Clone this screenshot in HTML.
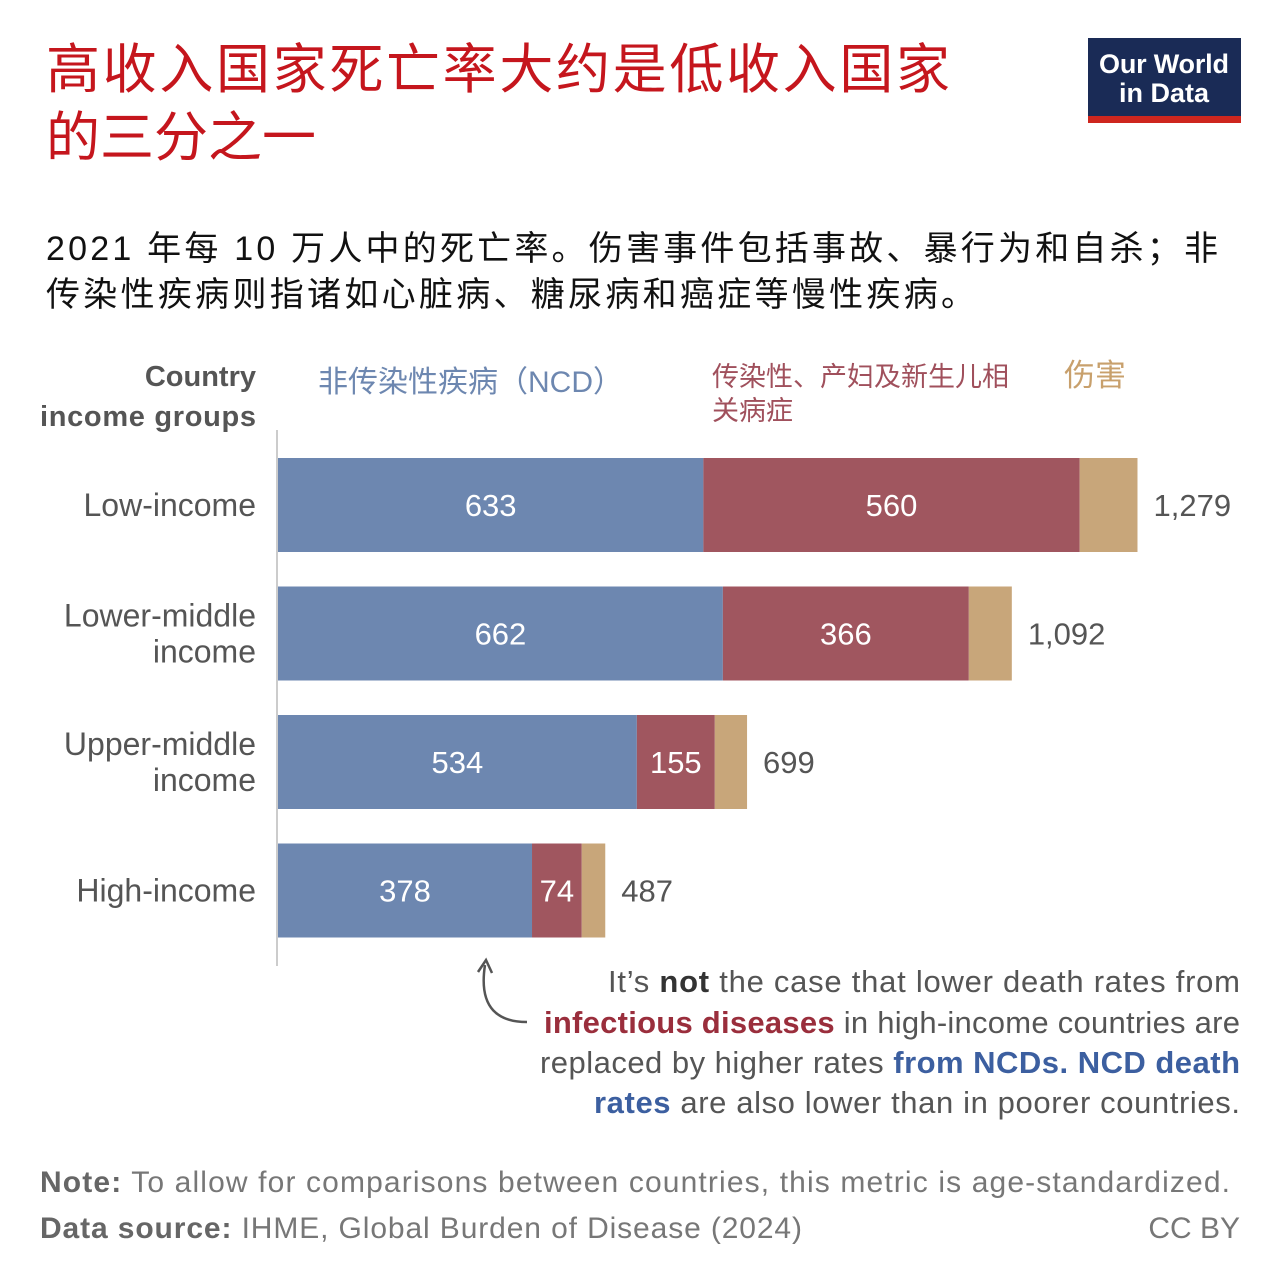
<!DOCTYPE html>
<html><head><meta charset="utf-8"><style>
body{margin:0;background:#fff;width:1280px;height:1280px;overflow:hidden}
svg{display:block}
.cjk{font-family:"Liberation Sans","Noto Sans CJK SC",sans-serif}
.lat{font-family:"Liberation Sans",sans-serif}
</style></head><body>
<svg width="1280" height="1280" viewBox="0 0 1280 1280">
<text class="cjk" x="46" y="88" font-size="54" fill="#c5161d" textLength="904">高收入国家死亡率大约是低收入国家</text>
<text class="cjk" x="46" y="156" font-size="54" fill="#c5161d">的三分之一</text>
<g>
<rect x="1088" y="38" width="153" height="78" fill="#1a2b56"/>
<rect x="1088" y="116" width="153" height="7" fill="#ce261e"/>
<text class="lat" x="1164" y="73" font-size="27" font-weight="bold" fill="#fff" text-anchor="middle" textLength="130">Our World</text>
<text class="lat" x="1164" y="102" font-size="27" font-weight="bold" fill="#fff" text-anchor="middle">in Data</text>
</g>
<text class="cjk" x="46" y="260" font-size="34" fill="#111" textLength="1172">2021 年每 10 万人中的死亡率。伤害事件包括事故、暴行为和自杀；非</text>
<text class="cjk" x="46" y="306" font-size="34" fill="#111" textLength="929">传染性疾病则指诸如心脏病、糖尿病和癌症等慢性疾病。</text>
<text class="lat" x="256" y="386" font-size="29" font-weight="bold" fill="#555" text-anchor="end">Country</text>
<text class="lat" x="256" y="426" font-size="29" font-weight="bold" fill="#555" text-anchor="end" textLength="216">income groups</text>
<text class="cjk" x="318" y="392" font-size="30" fill="#6d87b0">非传染性疾病（NCD）</text>
<text class="cjk" x="712" y="386" font-size="27" fill="#a0505c">传染性、产妇及新生儿相</text>
<text class="cjk" x="712" y="420" font-size="27" fill="#a0505c">关病症</text>
<text class="cjk" x="1064" y="386" font-size="31" fill="#c8a06c">伤害</text>
<line x1="277" y1="430" x2="277" y2="966" stroke="#ccc" stroke-width="2"/>
<g id="bars"></g>
<path d="M527 1022 C500 1022 478 1010 485 965" fill="none" stroke="#555" stroke-width="2.5"/>
<path d="M478 972 L486 960 L492 973" fill="none" stroke="#555" stroke-width="2.5"/>
<g class="lat" font-size="31" fill="#555" text-anchor="end">
<text x="1240" y="992" textLength="632">It’s <tspan font-weight="bold" fill="#333">not</tspan> the case that lower death rates from</text>
<text x="1240" y="1033" textLength="696"><tspan font-weight="bold" fill="#9a2e3c">infectious diseases</tspan> in high-income countries are</text>
<text x="1240" y="1073" textLength="700">replaced by higher rates <tspan font-weight="bold" fill="#3c5fa0">from NCDs. NCD death</tspan></text>
<text x="1240" y="1113" textLength="646"><tspan font-weight="bold" fill="#3c5fa0">rates</tspan> are also lower than in poorer countries.</text>
</g>
<text class="lat" x="40" y="1192" font-size="30" fill="#777" textLength="1190"><tspan font-weight="bold" fill="#666">Note:</tspan> To allow for comparisons between countries, this metric is age-standardized.</text>
<text class="lat" x="40" y="1238" font-size="30" fill="#777" textLength="762"><tspan font-weight="bold" fill="#666">Data source:</tspan> IHME, Global Burden of Disease (2024)</text>
<text class="lat" x="1240" y="1238" font-size="30" fill="#777" text-anchor="end">CC BY</text>
</svg>
<script>
const categories=[["Low-income"],["Lower-middle","income"],["Upper-middle","income"],["High-income"]];
const ncd=[633,662,534,378];
const infectious=[560,366,116,74];
const infectiousLabels=["560","366","155","74"];
const injuries=[86,64,48,35];
const totals=["1,279","1,092","699","487"];
const NS="http://www.w3.org/2000/svg";
const x0=278,scale=0.672,y0=458,step=128.5,h=94;
const xs=v=>x0+v*scale;
const g=document.getElementById('bars');
function mk(tag,at){const e=document.createElementNS(NS,tag);for(const k in at)e.setAttribute(k,at[k]);return e;}
const colors=["#6d87b0","#a0565f","#c8a67a"];
categories.forEach((c,i)=>{
  const y=y0+i*step;
  const vals=[ncd[i],infectious[i],injuries[i]];
  const labs=[String(ncd[i]),infectiousLabels[i]];
  let acc=0;
  vals.forEach((v,j)=>{
    const r=mk('rect',{x:xs(acc),y:y,width:v*scale,height:h,fill:colors[j]});
    
    
    g.appendChild(r);
    if(j<2){
      const t=mk('text',{x:xs(acc+v/2),y:y+h/2+11,'text-anchor':'middle','font-size':31,fill:'#fff','font-family':'Liberation Sans, sans-serif'});
      t.textContent=labs[j];
      
      
      g.appendChild(t);
    }
    acc+=v;
  });
  const tt=mk('text',{x:xs(acc)+16,y:y+h/2+11,'font-size':31,fill:'#555','font-family':'Liberation Sans, sans-serif'});
  tt.textContent=totals[i];
  
  
  g.appendChild(tt);
  c.forEach((line,k)=>{
    const n=c.length;
    const ly=y+h/2+11+(k-(n-1)/2)*36;
    const l=mk('text',{x:256,y:ly,'text-anchor':'end','font-size':32,fill:'#555','font-family':'Liberation Sans, sans-serif'});
    l.textContent=line;
    
    
    g.appendChild(l);
  });
});
</script>
</body></html>
